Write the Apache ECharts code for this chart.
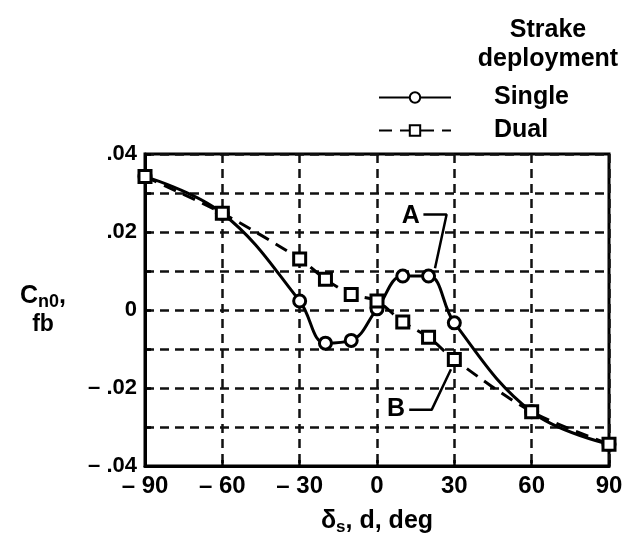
<!DOCTYPE html>
<html>
<head>
<meta charset="utf-8">
<script src="https://cdn.jsdelivr.net/npm/echarts@6/dist/echarts.min.js"></script>
<style>
  html, body { margin: 0; padding: 0; background: #fff; }
  #chart { width: 635px; height: 544px; }
</style>
</head>
<body>
<div id="chart"></div>
<script>
// strake deflection, deg
const deflection = [-90, -60, -30, -20, -10, 0, 10, 20, 30, 60, 90];
const singleValues = [0.0342, 0.0248, 0.0023, -0.0085, -0.0078, 0.0003, 0.0087, 0.0087, -0.0033, -0.0261, -0.0344];
const dualValues = [0.0342, 0.0248, 0.0131, 0.0079, 0.0040, 0.0023, -0.0031, -0.0070, -0.0127, -0.0261, -0.0344];

const xTickValues = [-90, -60, -30, 0, 30, 60, 90];
const xTickLabels = ['\u2013 90', '\u2013 60', '\u2013 30', '0', '30', '60', '90'];
const yTickValues = [-0.04, -0.02, 0, 0.02, 0.04];
const yTickLabels = ['\u2013 .04', '\u2013 .02', '0', '.02', '.04'];

// callouts A and B (leader lines in data space)
const leaderA = [[18, 0.0245], [27, 0.0245], [22.5, 0.0107]];
const leaderB = [[12.5, -0.0256], [21.2, -0.0256], [28.7, -0.0152]];
const calloutLabels = [['A', 13.1, 0.0240], ['B', 7.4, -0.0253]];

const FONT = 'Liberation Sans, Arial, Helvetica, sans-serif';

const chart = echarts.init(document.getElementById('chart'));

const pick = (values, labels, v, scale) => {
  const i = values.findIndex((t) => Math.round(t * scale) === Math.round(v * scale));
  return i < 0 ? '' : labels[i];
};

const leaderSeries = (data) => ({
  type: 'line',
  data,
  symbol: 'none',
  silent: true,
  lineStyle: { color: '#000', width: 2.5 },
  z: 4,
});

chart.setOption({
  animation: false,
  textStyle: { fontFamily: FONT },
  title: {
    text: 'Strake\ndeployment',
    left: 543,
    top: 11,
    textAlign: 'center',
    textStyle: { fontFamily: FONT, fontSize: 25, fontWeight: 'bold', color: '#000', lineHeight: 29 },
  },
  legend: {
    data: ['Single', 'Dual'],
    orient: 'vertical',
    left: 373,
    top: 80,
    itemWidth: 72,
    itemHeight: 13,
    itemGap: 8,
    selectedMode: false,
    textStyle: { fontFamily: FONT, fontSize: 25, fontWeight: 'bold', color: '#000', padding: [0, 0, 0, 38] },
  },
  grid: {
    left: 145,
    right: 26,
    top: 154,
    bottom: 78,
    show: true,
    borderColor: '#000',
    borderWidth: 3,
  },
  xAxis: {
    type: 'value',
    min: -90,
    max: 90,
    interval: 30,
    name: '{a|\u03b4}{s|s}{a|, d, deg}',
    nameLocation: 'middle',
    nameGap: 40,
    nameTextStyle: {
      rich: {
        a: { fontFamily: FONT, fontSize: 25, fontWeight: 'bold', color: '#000', lineHeight: 30 },
        s: { fontFamily: FONT, fontSize: 17, fontWeight: 'bold', color: '#000', lineHeight: 18, padding: [12, 0, 0, 0] },
      },
    },
    axisLine: { onZero: false, lineStyle: { color: '#000', width: 3 } },
    axisTick: { inside: true, length: 6, lineStyle: { color: '#000', width: 2.5 } },
    axisLabel: {
      margin: 8,
      fontSize: 24,
      fontWeight: 'bold',
      color: '#000',
      fontFamily: FONT,
      formatter: (v) => pick(xTickValues, xTickLabels, v, 1),
    },
    splitLine: { lineStyle: { color: '#111', width: 2.5, type: [9, 6] } },
  },
  yAxis: {
    type: 'value',
    min: -0.04,
    max: 0.04,
    interval: 0.01,
    name: '{c|C}{n|n0}{c|,}\n{f|fb}',
    nameLocation: 'middle',
    nameRotate: 0,
    nameGap: 102,
    nameTextStyle: {
      align: 'center',
      rich: {
        c: { fontFamily: FONT, fontSize: 25, fontWeight: 'bold', color: '#000', lineHeight: 30 },
        n: { fontFamily: FONT, fontSize: 18, fontWeight: 'bold', color: '#000', lineHeight: 18, padding: [12, 0, 0, 0] },
        f: { fontFamily: FONT, fontSize: 23, fontWeight: 'bold', color: '#000', lineHeight: 28, align: 'center' },
      },
    },
    axisLine: { onZero: false, lineStyle: { color: '#000', width: 3 } },
    axisTick: { inside: true, length: 6, lineStyle: { color: '#000', width: 2.5 } },
    axisLabel: {
      margin: 8,
      fontSize: 22,
      fontWeight: 'bold',
      color: '#000',
      fontFamily: FONT,
      formatter: (v) => pick(yTickValues, yTickLabels, v, 100),
    },
    splitLine: { lineStyle: { color: '#111', width: 2.5, type: [9, 6] } },
  },
  series: [
    {
      name: 'Dual',
      type: 'line',
      data: deflection.map((d, i) => [d, dualValues[i]]),
      smooth: 0.3,
      symbol: 'rect',
      symbolSize: 12,
      itemStyle: { color: '#fff', borderColor: '#000', borderWidth: 3 },
      lineStyle: { color: '#000', width: 3, type: [13, 8] },
      z: 3,
    },
    {
      name: 'Single',
      type: 'line',
      data: deflection.map((d, i) => [d, singleValues[i]]),
      smooth: 0.4,
      symbol: 'circle',
      symbolSize: 12,
      itemStyle: { color: '#fff', borderColor: '#000', borderWidth: 3 },
      lineStyle: { color: '#000', width: 3 },
      z: 2,
    },
    leaderSeries(leaderA),
    leaderSeries(leaderB),
    {
      type: 'scatter',
      silent: true,
      symbolSize: 0,
      itemStyle: { opacity: 1 },
      data: calloutLabels.map((c) => ({ name: c[0], value: [c[1], c[2]] })),
      label: {
        show: true,
        position: 'inside',
        formatter: (p) => p.name,
        fontFamily: FONT,
        fontSize: 25,
        fontWeight: 'bold',
        color: '#000',
      },
      z: 5,
    },
  ],
});
</script>
</body>
</html>
